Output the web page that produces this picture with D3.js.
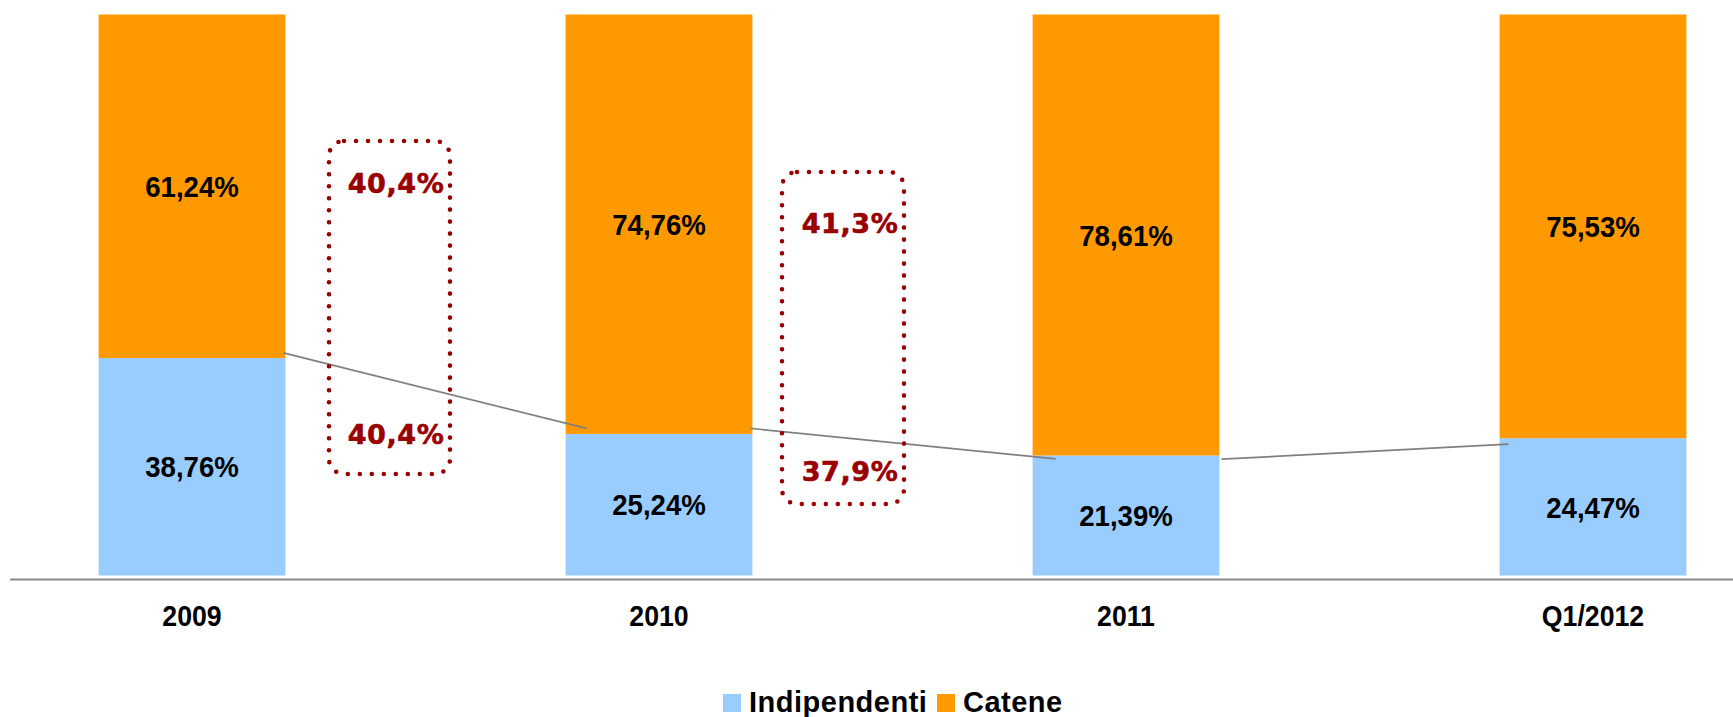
<!DOCTYPE html>
<html>
<head>
<meta charset="utf-8">
<script src="https://cdn.jsdelivr.net/npm/d3@7"></script>
<style>
  html, body { margin: 0; padding: 0; background: #fff; }
  svg { display: block; }
</style>
</head>
<body>
<svg id="chart" width="1733" height="717"></svg>
<script>
// ---------------- DATA ----------------
const categories = ["2009", "2010", "2011", "Q1/2012"];
const seriesNames = ["Indipendenti", "Catene"];
const indipendenti = [38.76, 25.24, 21.39, 24.47];
const catene = [61.24, 74.76, 78.61, 75.53];
// trend connector lines (in %)
const connectorFrom = [39.68, 26.22, 20.73];
const connectorTo = [26.22, 20.79, 23.41];
// annotation boxes between bars
const annotationTop = [40.4, 41.3];
const annotationBottom = [40.4, 37.9];

// ---------------- STYLE / LAYOUT ----------------
const W = 1733, H = 717;
const colors = { Indipendenti: "#99CCFF", Catene: "#FF9900" };
const darkRed = "#990000";
const narrow = 0.92;
const svg = d3.select("#chart");

const x = d3.scaleBand()
  .domain(categories)
  .range([-41.5, 1826.5])
  .paddingInner(0.6)
  .paddingOuter(0.3);
const y = d3.scaleLinear().domain([0, 100]).range([575.5, 14.5]);

const it = d3.formatLocale({ decimal: ",", thousands: ".", grouping: [3], currency: ["", "€"] });
const f2 = it.format(".2f"), f1 = it.format(".1f");

const table = categories.map((c, i) => ({ cat: c, Indipendenti: indipendenti[i], Catene: catene[i] }));
const stacked = d3.stack().keys(seriesNames)(table);

// bars
const layers = svg.append("g").selectAll("g").data(stacked).join("g")
  .attr("fill", d => colors[d.key]);
layers.selectAll("rect").data(d => d).join("rect")
  .attr("x", d => x(d.data.cat))
  .attr("width", x.bandwidth())
  .attr("y", d => y(d[1]))
  .attr("height", d => y(d[0]) - y(d[1]));

// value labels
layers.each(function(layer) {
  d3.select(this).selectAll("text").data(layer).join("text")
    .attr("transform", d => `translate(${x(d.data.cat) + x.bandwidth() / 2},${(y(d[0]) + y(d[1])) / 2 + 10.7}) scale(${narrow},1)`)
    .attr("text-anchor", "middle")
    .attr("fill", "#000")
    .style("font-family", "'Liberation Sans', Arial, sans-serif")
    .style("font-weight", "bold")
    .style("font-size", "30px")
    .text(d => f2(d[1] - d[0]) + "%");
});

// axis baseline
const axisG = svg.append("g").attr("transform", "translate(0,579.5)");
const xAxis = d3.axisBottom(x).tickSize(0).tickPadding(0);
axisG.call(xAxis);
axisG.select(".domain").attr("d", "M10,0H" + W).attr("stroke", "#888").attr("stroke-width", 2.2);
axisG.selectAll(".tick text")
  .attr("y", 0).attr("dy", null)
  .attr("transform", `translate(0,46.5) scale(${narrow},1)`)
  .attr("fill", "#000")
  .style("font-family", "'Liberation Sans', Arial, sans-serif")
  .style("font-weight", "bold")
  .style("font-size", "29px");

// connector lines
const connStartDx = [-2, -2, 2];
const connEndDx = [21, 23, 9];
svg.append("g").selectAll("line").data(connectorFrom).join("line")
  .attr("x1", (d, i) => x(categories[i]) + x.bandwidth() + connStartDx[i])
  .attr("y1", d => y(d))
  .attr("x2", (d, i) => x(categories[i + 1]) + connEndDx[i])
  .attr("y2", (d, i) => y(connectorTo[i]))
  .attr("stroke", "#808080")
  .attr("stroke-width", 1.7);

// annotation boxes
const boxLayout = [
  { left: 329, top: 141, w: 121, h: 333, tx: 396, tyTop: 182.5, tyBot: 434 },
  { left: 782, top: 172, w: 122, h: 332, tx: 850, tyTop: 222.5, tyBot: 471 }
];
const ann = svg.append("g").selectAll("g").data(annotationTop).join("g");
ann.append("rect")
  .attr("x", (d, i) => boxLayout[i].left)
  .attr("y", (d, i) => boxLayout[i].top)
  .attr("width", (d, i) => boxLayout[i].w)
  .attr("height", (d, i) => boxLayout[i].h)
  .attr("rx", 15).attr("ry", 15)
  .attr("fill", "none")
  .attr("stroke", darkRed)
  .attr("stroke-width", 4.6)
  .attr("stroke-linecap", "round")
  .attr("stroke-dasharray", "0 12");
const annText = (sel) => sel
  .attr("text-anchor", "middle")
  .attr("fill", darkRed)
  .attr("stroke", darkRed)
  .attr("stroke-width", 0.6)
  .style("font-family", "'DejaVu Sans', Verdana, sans-serif")
  .style("font-weight", "bold")
  .style("font-size", "27px")
  .style("letter-spacing", "0.6px");
ann.append("text")
  .attr("x", (d, i) => boxLayout[i].tx)
  .attr("y", (d, i) => boxLayout[i].tyTop + 10)
  .call(annText)
  .text(d => f1(d) + "%");
ann.append("text")
  .attr("x", (d, i) => boxLayout[i].tx)
  .attr("y", (d, i) => boxLayout[i].tyBot + 10)
  .call(annText)
  .text((d, i) => f1(annotationBottom[i]) + "%");

// legend
const legend = svg.append("g");
const legendX = [723, 937];
const legItems = legend.selectAll("g").data(seriesNames).join("g")
  .attr("transform", (d, i) => `translate(${legendX[i]},694)`);
legItems.append("rect")
  .attr("width", 18).attr("height", 18)
  .attr("fill", d => colors[d]);
legItems.append("text")
  .attr("x", 26).attr("y", 18)
  .attr("fill", "#000")
  .style("font-family", "'Liberation Sans', Arial, sans-serif")
  .style("font-weight", "bold")
  .style("font-size", "29px")
  .style("letter-spacing", "0.5px")
  .text(d => d);
</script>
</body>
</html>
